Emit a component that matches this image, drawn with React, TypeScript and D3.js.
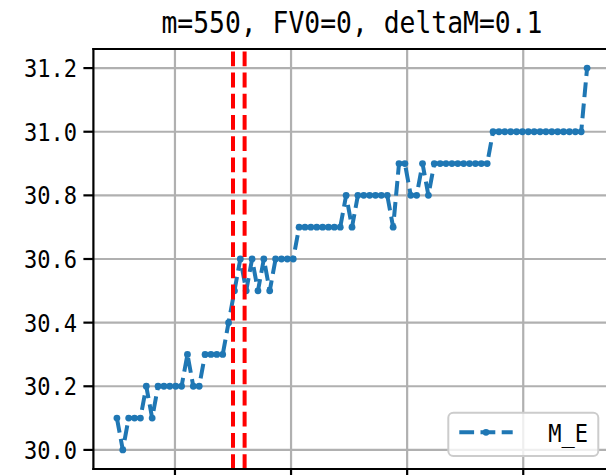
import React from 'react';
import * as d3 from 'd3';

const titleText = 'm=550, FV0=0, deltaM=0.1';
const seriesName = 'M_E';

const xValues = [
  530, 531.0125, 532.025, 533.0375, 534.05, 535.0625, 536.075, 537.0875, 538.1, 539.1125,
  540.125, 541.1375, 542.15, 543.1625, 544.175, 545.1875, 546.2, 547.2125, 548.225, 549.2375,
  550.25, 551.2625, 552.275, 553.2875, 554.3, 555.3125, 556.325, 557.3375, 558.35, 559.3625,
  560.375, 561.3875, 562.4, 563.4125, 564.425, 565.4375, 566.45, 567.4625, 568.475, 569.4875,
  570.5, 571.5125, 572.525, 573.5375, 574.55, 575.5625, 576.575, 577.5875, 578.6, 579.6125,
  580.625, 581.6375, 582.65, 583.6625, 584.675, 585.6875, 586.7, 587.7125, 588.725, 589.7375,
  590.75, 591.7625, 592.775, 593.7875, 594.8, 595.8125, 596.825, 597.8375, 598.85, 599.8625,
  600.875, 601.8875, 602.9, 603.9125, 604.925, 605.9375, 606.95, 607.9625, 608.975, 609.9875,
  611,
];

const meValues = [
  30.1, 30.0, 30.1, 30.1, 30.1, 30.2, 30.1, 30.2, 30.2, 30.2,
  30.2, 30.2, 30.3, 30.2, 30.2, 30.3, 30.3, 30.3, 30.3, 30.4,
  30.5, 30.6, 30.5, 30.6, 30.5, 30.6, 30.5, 30.6, 30.6, 30.6,
  30.6, 30.7, 30.7, 30.7, 30.7, 30.7, 30.7, 30.7, 30.7, 30.8,
  30.7, 30.8, 30.8, 30.8, 30.8, 30.8, 30.8, 30.7, 30.9, 30.9,
  30.8, 30.8, 30.9, 30.8, 30.9, 30.9, 30.9, 30.9, 30.9, 30.9,
  30.9, 30.9, 30.9, 30.9, 31.0, 31.0, 31.0, 31.0, 31.0, 31.0,
  31.0, 31.0, 31.0, 31.0, 31.0, 31.0, 31.0, 31.0, 31.0, 31.0,
  31.2,
];

const markerLinesX = [550, 552];
const xTicks = [540, 560, 580, 600];
const yTicks = [30.0, 30.2, 30.4, 30.6, 30.8, 31.0, 31.2];
const yTickLabels = ['30.0', '30.2', '30.4', '30.6', '30.8', '31.0', '31.2'];

const W = 606;
const H = 475;
const plot = { left: 93.4, right: 610.6, top: 49, bottom: 469 };
const MONO = "'DejaVu Sans Mono', 'Liberation Mono', monospace";
const SX = 0.865;

function MonoText(props: { x: number; y: number; size: number; anchor: string; children: React.ReactNode }) {
  return (
    <text
      transform={`translate(${props.x},${props.y}) scale(${SX},1)`}
      fontFamily={MONO}
      fontSize={props.size}
      textAnchor={props.anchor as any}
      fill="#000"
    >
      {props.children}
    </text>
  );
}

export default function App() {
  const xmin = d3.min(xValues) as number;
  const xmax = d3.max(xValues) as number;
  const xpad = (xmax - xmin) * 0.05;
  const ymin = d3.min(meValues) as number;
  const ymax = d3.max(meValues) as number;
  const ypad = (ymax - ymin) * 0.05;

  const x = d3.scaleLinear().domain([xmin - xpad, xmax + xpad]).range([plot.left, plot.right]);
  const y = d3.scaleLinear().domain([ymin - ypad, ymax + ypad]).range([plot.bottom, plot.top]);

  const pts = xValues.map((xv, i) => [xv, meValues[i]] as [number, number]);
  const linePath = d3
    .line<[number, number]>()
    .x((d) => x(d[0]))
    .y((d) => y(d[1]))(pts) as string;

  const blue = '#1f77b4';
  const gridColor = '#b0b0b0';
  const lw = 2.2;

  const legend = { x: 448.3, y: 412.7, w: 150, h: 43.3 };
  const handleY = 432.3;
  const handleX0 = 459.3;
  const handleX1 = 512.7;

  return (
    <svg
      width={W}
      height={H}
      viewBox={`0 0 ${W} ${H}`}
      style={{ position: 'absolute', left: 0, top: 0, background: '#fff' }}
    >
      <rect x={0} y={0} width={W} height={H} fill="#fff" />
      <g>
        {xTicks.map((t) => (
          <line key={'gx' + t} x1={x(t)} x2={x(t)} y1={plot.top} y2={plot.bottom} stroke={gridColor} strokeWidth={lw} />
        ))}
        {yTicks.map((t) => (
          <line key={'gy' + t} x1={plot.left} x2={plot.right} y1={y(t)} y2={y(t)} stroke={gridColor} strokeWidth={lw} />
        ))}
      </g>
      <path d={linePath} fill="none" stroke={blue} strokeWidth={4} strokeDasharray="14.8 6.4" strokeLinecap="butt" strokeLinejoin="round" />
      <g fill={blue}>
        {pts.map((d, i) => (
          <circle key={i} cx={x(d[0])} cy={y(d[1])} r={3.4} />
        ))}
      </g>
      {markerLinesX.map((v) => (
        <path
          key={'r' + v}
          d={`M${x(v)},${plot.bottom} L${x(v)},${plot.top}`}
          stroke="#ff0000"
          strokeWidth={4}
          strokeDasharray="14.8 6.4"
          fill="none"
        />
      ))}
      <g stroke="#000" strokeWidth={lw} strokeLinecap="square">
        <line x1={plot.left} x2={plot.left} y1={plot.top} y2={plot.bottom} />
        <line x1={plot.left} x2={plot.right} y1={plot.bottom} y2={plot.bottom} />
        <line x1={plot.left} x2={plot.right} y1={plot.top} y2={plot.top} />
        <line x1={plot.right} x2={plot.right} y1={plot.top} y2={plot.bottom} />
      </g>
      <g stroke="#000" strokeWidth={lw}>
        {xTicks.map((t) => (
          <line key={'tx' + t} x1={x(t)} x2={x(t)} y1={plot.bottom} y2={plot.bottom + 10} />
        ))}
        {yTicks.map((t) => (
          <line key={'ty' + t} x1={plot.left - 10} x2={plot.left} y1={y(t)} y2={y(t)} />
        ))}
      </g>
      {yTicks.map((t, i) => (
        <MonoText key={'yl' + t} x={77} y={y(t) + 9} size={25.5} anchor="end">
          {yTickLabels[i]}
        </MonoText>
      ))}
      <MonoText x={(plot.left + plot.right) / 2} y={32.8} size={30.5} anchor="middle">
        {titleText}
      </MonoText>
      <rect
        x={legend.x}
        y={legend.y}
        width={legend.w}
        height={legend.h}
        rx={5}
        fill="#fff"
        fillOpacity={0.8}
        stroke="#cccccc"
        strokeWidth={2}
      />
      <path
        d={`M${handleX0},${handleY} L${handleX1},${handleY}`}
        stroke={blue}
        strokeWidth={4}
        strokeDasharray="14.8 6.4"
        fill="none"
      />
      <circle cx={(handleX0 + handleX1) / 2} cy={handleY} r={3.4} fill={blue} />
      <MonoText x={548.3} y={442} size={25.5} anchor="start">
        {seriesName}
      </MonoText>
    </svg>
  );
}
